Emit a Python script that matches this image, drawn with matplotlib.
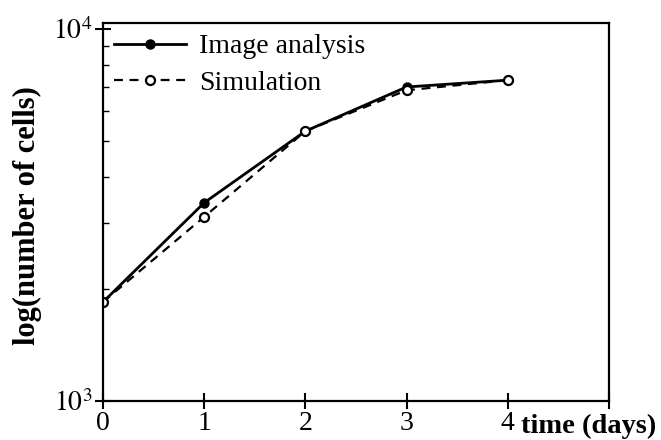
import numpy as np
import matplotlib
matplotlib.use('Agg')
import matplotlib.pyplot as plt
from matplotlib.ticker import LogLocator, NullFormatter, FixedLocator

plt.rcParams['font.family'] = ['Liberation Serif', 'DejaVu Serif']
plt.rcParams['mathtext.fontset'] = 'stix'

days = [0, 1, 2, 3, 4]
image_cells = [1845, 3410, 5310, 6980, 7280]
sim_cells = [1845, 3125, 5310, 6840, 7280]

fig = plt.figure(figsize=(6.61, 4.40), dpi=100)
ax = fig.add_axes([0.156, 0.089, 0.765, 0.859])

ax.plot(days, image_cells, '-', color='black', linewidth=2.0,
        marker='o', markersize=6.5, markerfacecolor='black', label='Image analysis')
ax.plot(days, sim_cells, '--', color='black', linewidth=1.6, dashes=(4, 3),
        marker='o', markersize=6.5, markerfacecolor='white', markeredgewidth=1.6,
        label='Simulation')

ax.set_yscale('log')
ax.set_xlim(0, 5)
ax.set_ylim(1000, 10380)

ax.xaxis.set_major_locator(FixedLocator([0, 1, 2, 3, 4, 5]))
ax.set_xticklabels(['0', '1', '2', '3', '4', ''])
ax.yaxis.set_major_locator(FixedLocator([1000, 10000]))
ax.set_yticklabels([r'$10^3$', r'$10^4$'])
ax.yaxis.set_minor_locator(LogLocator(base=10, subs=np.arange(2, 10)))
ax.yaxis.set_minor_formatter(NullFormatter())

ax.tick_params(axis='x', direction='inout', length=11, width=1.5, labelsize=20, pad=2)
ax.tick_params(axis='y', which='major', direction='inout', length=11, width=1.5, labelsize=20, pad=2)
ax.tick_params(axis='y', which='minor', direction='in', length=4, width=1)

for s in ax.spines.values():
    s.set_linewidth(1.6)

ax.set_ylabel('log(number of cells)', fontsize=22, fontweight='bold')
ax.yaxis.set_label_coords(-0.12, 0.49)
ax.set_xlabel('time (days)', fontsize=20.5, fontweight='bold', ha='left', va='center')
ax.xaxis.set_label_coords(0.826, -0.068)

leg = ax.legend(loc='upper left', frameon=False, fontsize=20, handlelength=2.6,
                handletextpad=0.45, labelspacing=0.4, borderaxespad=0.0)

fig.savefig('out.png', dpi=100)
